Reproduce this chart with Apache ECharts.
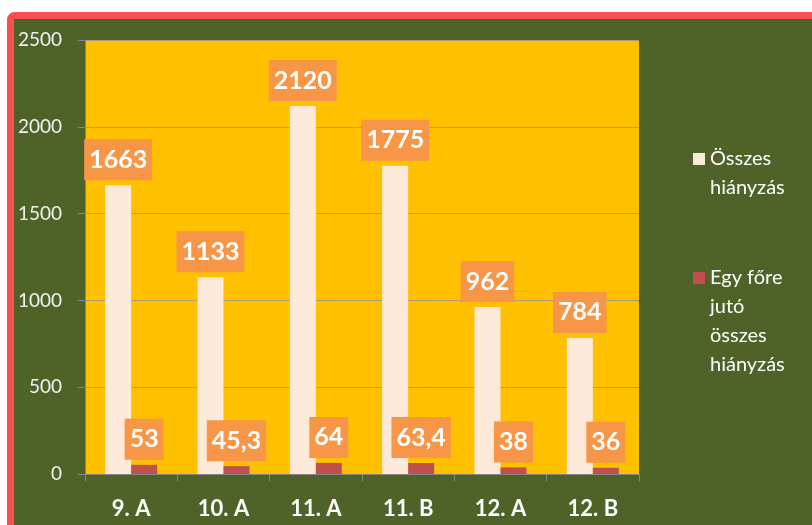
<!DOCTYPE html>
<html>
<head>
<meta charset="utf-8">
<script src="https://cdn.jsdelivr.net/npm/echarts@6/dist/echarts.min.js"></script>
<style>
  html, body { margin: 0; padding: 0; background: #fff; }
  #chart { width: 812px; height: 525px; }
</style>
</head>
<body>
<div id="chart"></div>
<script>
// data
var classes = ['9. A', '10. A', '11. A', '11. B', '12. A', '12. B'];
var totalAbsence = [1663, 1133, 2120, 1775, 962, 784];
var perStudent = [53, 45.3, 64, 63.4, 38, 36];
var seriesNames = ['Összes hiányzás', 'Egy főre jutó összes hiányzás'];
var legendLines = [['Összes', 'hiányzás'], ['Egy főre', 'jutó', 'összes', 'hiányzás']];
var yTicks = { min: 0, max: 2500, step: 500 };

var mychart = echarts.init(document.getElementById('chart'));

// legend text is centred on the icon, so pad with blank lines on top
// to put the first line next to the square
const legendLabel = (lines) => {
    let pad = [];
    for (let i = 1; i < lines.length; i++) pad.push('');
    return pad.concat(lines).join('\n');
};

const labelStyle = {
    show: true,
    position: 'top',
    distance: 5,
    color: '#fff',
    fontFamily: 'Lato',
    fontWeight: 'bold',
    fontSize: 25,
    lineHeight: 29,
    backgroundColor: '#F79646',
    padding: [6, 5, 6, 5],
    formatter: function (p) {
        return String(p.value).replace('.', ',');
    }
};

const legendText = {
    color: '#fff',
    fontFamily: 'Lato',
    fontSize: 20,
    lineHeight: 29
};

var option = {
    backgroundColor: '#fff',
    animation: false,
    graphic: [
        {
            type: 'rect',
            z: -10,
            shape: { x: 10.5, y: 15.5, width: 900, height: 600, r: 4 },
            style: { fill: '#4F6228', stroke: '#F94F4F', lineWidth: 7 }
        }
    ],
    grid: {
        left: 85,
        top: 40,
        width: 554,
        bottom: 51,
        show: true,
        backgroundColor: '#FFC000',
        borderWidth: 0
    },
    legend: [
        {
            left: 693,
            top: 115.5,
            padding: 0,
            itemWidth: 12,
            itemHeight: 12,
            icon: 'rect',
            data: [seriesNames[0]],
            formatter: function () { return legendLabel(legendLines[0]); },
            textStyle: legendText
        },
        {
            left: 693,
            top: 176.5,
            padding: 0,
            itemWidth: 12,
            itemHeight: 12,
            icon: 'rect',
            data: [seriesNames[1]],
            formatter: function () { return legendLabel(legendLines[1]); },
            textStyle: legendText
        }
    ],
    xAxis: {
        type: 'category',
        data: classes,
        axisLine: { lineStyle: { color: '#868686' } },
        axisTick: { show: true, length: 7, lineStyle: { color: '#868686' } },
        axisLabel: {
            color: '#fff',
            fontFamily: 'Lato',
            fontWeight: 'bold',
            fontSize: 22,
            margin: 24
        }
    },
    yAxis: {
        type: 'value',
        min: yTicks.min,
        max: yTicks.max,
        interval: yTicks.step,
        axisLine: { show: true, lineStyle: { color: '#868686' } },
        axisTick: { show: true, length: 7, lineStyle: { color: '#868686' } },
        splitLine: { lineStyle: { color: '#A89F6A' } },
        axisLabel: {
            color: '#F2F2F2',
            fontFamily: 'Lato',
            fontSize: 19,
            margin: 23,
            formatter: function (v) { return String(v); }
        }
    },
    series: [
        {
            name: seriesNames[0],
            type: 'bar',
            barWidth: 26,
            barGap: '0%',
            itemStyle: { color: '#FDE9D9' },
            label: labelStyle,
            data: totalAbsence
        },
        {
            name: seriesNames[1],
            type: 'bar',
            barWidth: 26,
            itemStyle: { color: '#C0504D' },
            label: labelStyle,
            data: perStudent
        }
    ]
};

mychart.setOption(option);
</script>
</body>
</html>
